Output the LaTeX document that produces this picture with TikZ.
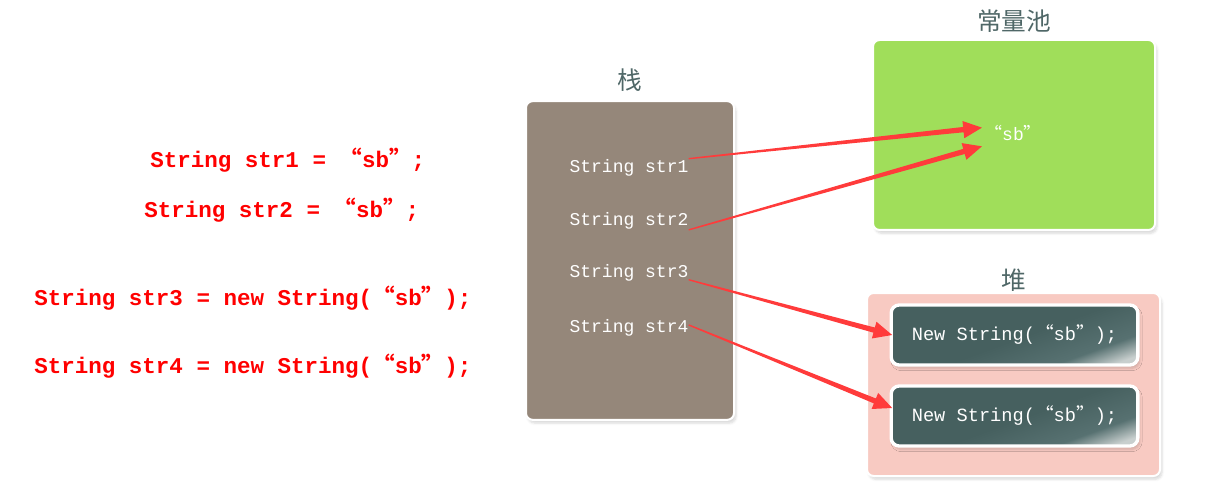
\documentclass[tikz,border=0pt]{standalone}
\usepackage{fontspec}
\setmonofont{Liberation Mono}
\newfontfamily\cjk{Noto Sans CJK SC}
\usepackage{tikz}
\usetikzlibrary{positioning, calc, shadows.blur}
\definecolor{stackbrown}{HTML}{95877A}
\definecolor{poolgreen}{HTML}{A0DE5A}
\definecolor{heappink}{HTML}{F8CAC2}
\definecolor{objteal}{HTML}{46605F}
\definecolor{objmid}{HTML}{577171}
\definecolor{objlight}{HTML}{C8CFCE}
\definecolor{titlegray}{HTML}{4F6767}
\definecolor{arrowred}{HTML}{FF3B3B}
\pgfdeclareverticalshading{objshade}{100bp}{color(0bp)=(objlight); color(22bp)=(objlight); color(31bp)=(objmid); color(48bp)=(objteal); color(100bp)=(objteal)}
\newcommand{\oq}{{\cjk “}}
\newcommand{\cq}{{\cjk ”}}

\begin{document}
\begin{tikzpicture}[
    x=0.75pt, y=-0.75pt,
    node distance=0pt,
    memory/.style={rectangle, rounded corners=5pt, draw=white, line width=1.5pt, blur shadow={shadow xshift=1.5pt, shadow yshift=-2.5pt, shadow blur steps=6, shadow opacity=15}},
    object/.style={memory, shade, shading=objshade, shading angle=20, minimum width=185pt, minimum height=45pt, line width=2.5pt, rounded corners=6pt, font=\ttfamily\fontsize{14}{16}\selectfont, text=white},
    title/.style={font=\cjk\fontsize{18.5}{22}\selectfont, text=titlegray, inner sep=0pt},
    var/.style={font=\ttfamily\fontsize{13.5}{16}\selectfont, text=white, inner sep=0pt, minimum height=39pt},
    code/.style={font=\ttfamily\bfseries\fontsize{16.9}{20}\selectfont, text=red, inner sep=0pt, anchor=west},
  ]
    \useasboundingbox (0,0) rectangle (1213,502);

    % source lines
    \node[code] (c1) at (150,160) {String str1 = \oq sb\cq;};
    \node[code] (c2) at (144,210) {String str2 = \oq sb\cq;};
    \node[code] (c3) at (34,298) {String str3 = new String(\oq sb\cq);};
    \node[code] (c4) at (34,366) {String str4 = new String(\oq sb\cq);};

    % stack
    \node[memory, fill=stackbrown, minimum width=156pt, minimum height=239pt] (stack) at (630,260.5) {};
    \node[title, above=6pt of stack] (stacktitle) {栈};
    \node[var] (s1) at (629,168) {String str1};
    \node[var, below=of s1] (s2) {String str2};
    \node[var, below=of s2] (s3) {String str3};
    \node[var, below=1.5pt of s3] (s4) {String str4};

    % constant pool
    \node[memory, fill=poolgreen, minimum width=211.5pt, minimum height=142.5pt] (pool) at (1014,135) {};
    \node[title, above=5pt of pool] (pooltitle) {常量池};
    \node[var, minimum height=0pt] (sb) at (1013,133) {\oq sb\cq};

    % heap
    \node[memory, fill=heappink, minimum width=219.75pt, minimum height=137.25pt] (heap) at (1013.5,384.5) {};
    \node[title, above=0.5pt of heap] (heaptitle) {堆};
    \node[object] (obj1) at (1014.5,335) {New String(\oq sb\cq);};
    \node[object] (obj2) at (1014.5,416) {New String(\oq sb\cq);};

    % references
    \coordinate (a1s) at ([yshift=7pt]s1.east);
    \coordinate (a1e) at ([shift={(-1.5pt,4pt)}]sb.west);
    \coordinate (a2s) at ([yshift=-7pt]s2.east);
    \coordinate (a2e) at ([shift={(-1.5pt,-10pt)}]sb.west);
    \coordinate (a3s) at ([yshift=-5pt]s3.east);
    \coordinate (a3e) at ([xshift=2pt]obj1.west);
    \coordinate (a4s) at ([yshift=2pt]s4.east);
    \coordinate (a4e) at ([shift={(2pt,6pt)}]obj2.west);
    \foreach \i in {1,...,4}{
      \coordinate (base) at ($(a\i e)!14pt!(a\i s)$);
      \fill[arrowred] ($(a\i s)!0.5pt!90:(a\i e)$) -- ($(base)!2pt!-90:(a\i s)$) -- ($(base)!6.5pt!-90:(a\i s)$) -- (a\i e)
        -- ($(base)!6.5pt!90:(a\i s)$) -- ($(base)!2pt!90:(a\i s)$) -- ($(a\i s)!0.5pt!-90:(a\i e)$) -- cycle;
    }
  \end{tikzpicture}
\end{document}
